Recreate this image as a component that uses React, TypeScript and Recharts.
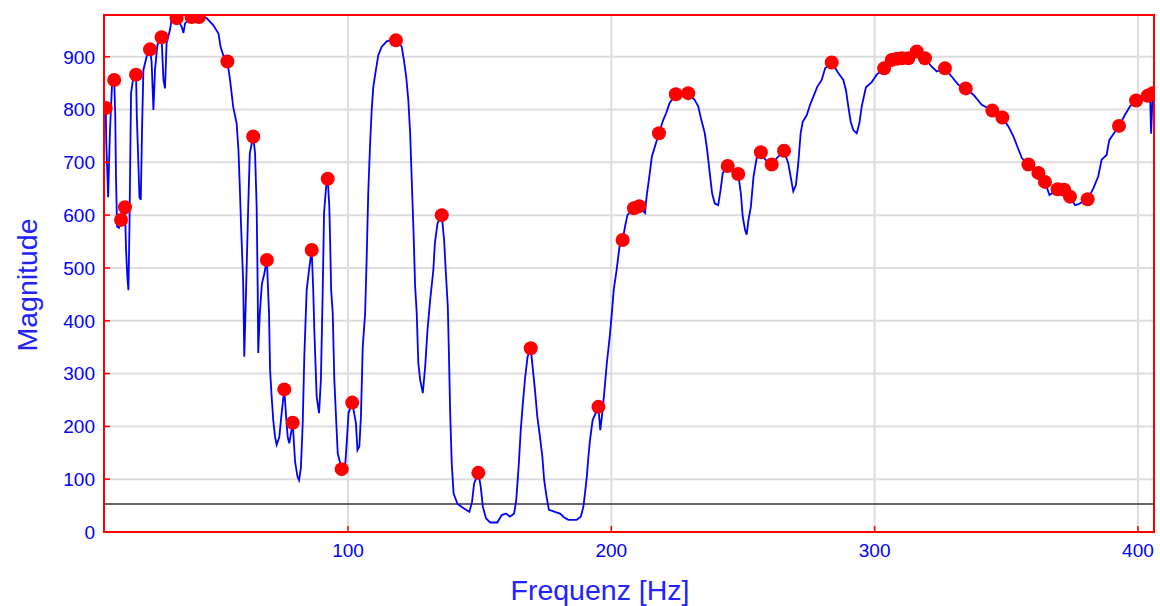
import React from 'react'
import {
  ComposedChart,
  Line,
  Scatter,
  XAxis,
  YAxis,
  CartesianGrid,
  ReferenceLine,
  ReferenceArea,
} from 'recharts'

// frequency samples [Hz]
const freqs = [
  8.0, 8.2, 8.9, 9.6, 10.4, 11.2, 11.6, 11.9, 12.3, 13.0, 13.8, 14.4, 15.3, 15.7, 16.2, 16.6, 17.0, 17.6, 18.5, 19.5,
  19.8, 20.3, 20.8, 21.3, 21.8, 22.3, 23.5, 24.8, 25.4, 26.1, 26.7, 27.6, 29.2, 29.9, 30.5, 31.1, 32.4, 33.0, 34.9, 36.8,
  37.5, 38.1, 40.6, 43.4, 46.3, 48.8, 50.8, 51.6, 52.6, 54.2, 55.2, 56.4, 57.7, 58.4, 58.9, 59.4, 60.2, 60.6, 61.2, 62.1,
  62.7, 64.0, 64.7, 65.3, 65.7, 65.9, 66.5, 67.3, 68.2, 69.2, 70.0, 70.4, 71.0, 71.6, 72.3, 72.9, 73.9, 74.8, 75.8, 76.5,
  77.1, 77.7, 79.0, 79.9, 80.8, 81.4, 82.1, 82.8, 83.4, 84.3, 85.3, 86.2, 86.8, 87.2, 88.1, 89.0, 89.7, 90.4, 90.9, 91.7,
  92.3, 92.9, 93.2, 93.6, 94.2, 94.8, 95.5, 96.1, 97.6, 98.9, 99.5, 100.2, 101.6, 103.0, 103.6, 104.3, 104.9, 105.6, 106.5, 107.1,
  107.7, 108.4, 109.0, 109.6, 110.6, 111.5, 112.8, 114.7, 116.5, 118.2, 120.4, 121.3, 122.1, 122.9, 123.6, 124.2, 124.9, 125.5, 126.1, 126.7,
  127.4, 128.4, 129.3, 130.2, 131.2, 132.4, 133.0, 134.0, 135.6, 136.5, 137.1, 137.9, 138.4, 138.8, 139.4, 140.1, 141.6, 143.9, 146.1, 147.1,
  147.9, 149.5, 150.4, 151.2, 152.4, 154.0, 156.7, 158.4, 160.0, 161.5, 163.1, 163.9, 164.8, 165.6, 166.4, 167.3, 168.2, 169.4, 170.1, 171.0,
  171.9, 172.9, 173.8, 174.5, 175.4, 176.3, 178.6, 180.5, 182.0, 183.7, 186.8, 188.4, 189.4, 190.0, 190.7, 191.3, 191.9, 192.9, 195.1, 195.8,
  196.4, 197.3, 198.3, 199.4, 200.3, 200.9, 202.0, 203.1, 204.3, 205.2, 206.1, 208.6, 210.6, 212.8, 213.4, 214.5, 215.4, 218.1, 219.7, 220.8,
  222.1, 224.5, 227.0, 229.2, 231.7, 233.0, 234.2, 235.5, 236.4, 237.4, 238.3, 239.3, 240.6, 241.5, 242.3, 244.2, 248.2, 249.2, 249.9, 250.8,
  251.4, 252.1, 253.0, 254.0, 255.3, 256.8, 258.5, 260.9, 263.4, 265.6, 267.2, 268.1, 269.1, 270.1, 271.0, 271.9, 272.7, 274.2, 275.5, 276.7,
  278.2, 279.9, 281.2, 283.7, 286.2, 288.1, 289.1, 290.0, 290.9, 291.9, 293.2, 294.2, 295.1, 296.7, 298.9, 300.8, 303.6, 306.5, 308.5, 310.3,
  312.8, 316.0, 319.1, 321.7, 323.6, 326.7, 329.3, 331.8, 334.6, 337.5, 340.7, 344.7, 348.5, 350.8, 352.7, 354.2, 355.9, 358.4, 362.2, 364.7,
  366.4, 367.2, 369.5, 372.0, 374.2, 376.1, 377.4, 380.9, 383.1, 384.9, 386.2, 388.1, 389.1, 392.8, 395.1, 397.0, 399.3, 402.0, 403.7, 404.6,
  405.0, 405.6,
]

// magnitude at each frequency sample
const mags = [
  803, 737, 634, 760, 850, 856, 790, 667, 578, 576, 591, 580, 615, 534, 483, 458, 578, 831, 862, 866,
  786, 710, 634, 629, 768, 875, 900, 914, 891, 799, 875, 922, 937, 856, 840, 926, 951, 970, 973, 957,
  945, 963, 975, 975, 973, 960, 944, 919, 903, 891, 856, 805, 774, 723, 654, 578, 471, 332, 440, 616,
  717, 749, 717, 616, 464, 339, 414, 470, 489, 515, 414, 307, 256, 212, 180, 165, 180, 225, 270, 218,
  180, 168, 207, 133, 105, 98, 121, 206, 332, 458, 500, 534, 458, 383, 256, 225, 288, 458, 604, 654,
  669, 616, 553, 458, 414, 288, 212, 149, 119, 124, 168, 225, 245, 206, 155, 162, 218, 351, 414, 521,
  645, 736, 799, 843, 875, 903, 919, 929, 932, 931, 919, 891, 862, 818, 755, 667, 566, 464, 414, 320,
  288, 263, 313, 383, 439, 496, 547, 585, 600, 553, 496, 427, 320, 225, 130, 73, 53, 45, 38, 57,
  92, 112, 86, 48, 26, 18, 18, 32, 35, 29, 35, 61, 124, 193, 244, 294, 332, 348, 313, 269,
  218, 180, 143, 98, 67, 42, 38, 35, 28, 23, 23, 29, 48, 73, 105, 143, 174, 212, 237, 193,
  218, 263, 320, 370, 420, 458, 496, 540, 553, 578, 600, 613, 617, 604, 635, 676, 711, 755, 780, 793,
  812, 829, 826, 831, 818, 806, 780, 755, 723, 679, 641, 622, 619, 648, 679, 693, 678, 641, 597, 572,
  563, 591, 616, 673, 711, 719, 705, 696, 711, 722, 698, 673, 645, 657, 698, 755, 777, 789, 809, 824,
  843, 856, 878, 889, 869, 856, 837, 806, 777, 761, 755, 774, 806, 842, 852, 866, 878, 894, 896, 897,
  897, 910, 897, 881, 872, 878, 862, 847, 840, 828, 809, 798, 785, 768, 749, 730, 708, 696, 680, 663,
  638, 641, 649, 648, 635, 619, 621, 630, 651, 673, 705, 714, 742, 769, 790, 806, 817, 824, 826, 830,
  754, 831,
]

// frequencies marked with a red dot
const peakFreqs = [
  8.0, 11.2, 13.8, 15.3, 19.5, 24.8, 29.2, 34.9, 40.6, 43.4, 54.2, 64.0, 69.2, 75.8, 79.0, 86.2, 92.3, 97.6, 101.6,
  118.2, 135.6, 149.5, 169.4, 195.1, 204.3, 208.6, 210.6, 218.1, 224.5, 229.2, 244.2, 248.2, 256.8, 260.9, 265.6,
  283.7, 303.6, 306.5, 308.5, 310.3, 312.8, 316.0, 319.1, 326.7, 334.6, 344.7, 348.5, 358.4, 362.2, 364.7, 369.5,
  372.0, 374.2, 380.9, 392.8, 399.3, 403.7, 405.6,
]

const xTicks = [100, 200, 300, 400]
const yTicks = [0, 100, 200, 300, 400, 500, 600, 700, 800, 900]
const xDomain = [7.33, 406.1]
const yDomain = [0, 979]
const threshold = 53

const series = freqs.map((f, i) => ({ f, m: mags[i] }))
const peaks = series.filter((d) => peakFreqs.includes(d.f))

const BLUE = '#0000ff'
const FONT = '"Liberation Sans", Arial, sans-serif'

const YTick = ({ x, y, payload }: any) => (
  <g>
    <line x1={x} x2={x + 6} y1={y} y2={y} stroke="#ff0000" strokeWidth={1.5} />
    <text x={x - 9} y={y} dy="0.36em" textAnchor="end" fill={BLUE} fontSize={19} fontFamily={FONT}>
      {payload.value}
    </text>
  </g>
)

const XTick = ({ x, y, payload }: any) => (
  <g>
    <line x1={x} x2={x} y1={y - 6} y2={y} stroke="#ff0000" strokeWidth={1.5} />
    <text x={x} y={y + 25} textAnchor="middle" fill={BLUE} fontSize={19} fontFamily={FONT}>
      {payload.value}
    </text>
  </g>
)

const Dot = ({ cx, cy }: any) => <circle cx={cx} cy={cy} r={7} fill="#ff0000" />

export default function App() {
  return (
    <div style={{ position: 'absolute', left: 0, top: 0, background: '#fff' }}>
      <ComposedChart width={1160} height={606} margin={{ top: 15, right: 6, bottom: 0, left: 0 }}>
        <CartesianGrid stroke="#dddddd" strokeWidth={2} />
        <XAxis
          type="number"
          dataKey="f"
          domain={xDomain}
          ticks={xTicks}
          allowDataOverflow
          height={74}
          axisLine={false}
          tickLine={false}
          tickSize={0}
          tickMargin={0}
          tick={<XTick />}
          label={() => (
            <text x={600} y={600} textAnchor="middle" fill="#2222ff" fontSize={28.5} fontFamily={FONT}>
              Frequenz [Hz]
            </text>
          )}
        />
        <YAxis
          type="number"
          domain={yDomain}
          ticks={yTicks}
          allowDataOverflow
          width={104}
          axisLine={false}
          tickLine={false}
          tickSize={0}
          tickMargin={0}
          tick={<YTick />}
          label={() => (
            <text
              x={37}
              y={285}
              transform="rotate(-90 37 285)"
              textAnchor="middle"
              fill="#2222ff"
              fontSize={28.5}
              fontFamily={FONT}
            >
              Magnitude
            </text>
          )}
        />
        <ReferenceLine y={threshold} stroke="#333333" strokeWidth={1.5} />
        <Line
          data={series}
          dataKey="m"
          type="linear"
          stroke={BLUE}
          strokeWidth={1.8}
          dot={false}
          activeDot={false}
          isAnimationActive={false}
        />
        <Scatter data={peaks} dataKey="m" shape={<Dot />} isAnimationActive={false} />
        <ReferenceArea
          x1={xDomain[0]}
          x2={xDomain[1]}
          y1={yDomain[0]}
          y2={yDomain[1]}
          fill="none"
          stroke="#ff0000"
          strokeWidth={2}
          ifOverflow="visible"
        />
      </ComposedChart>
    </div>
  )
}
